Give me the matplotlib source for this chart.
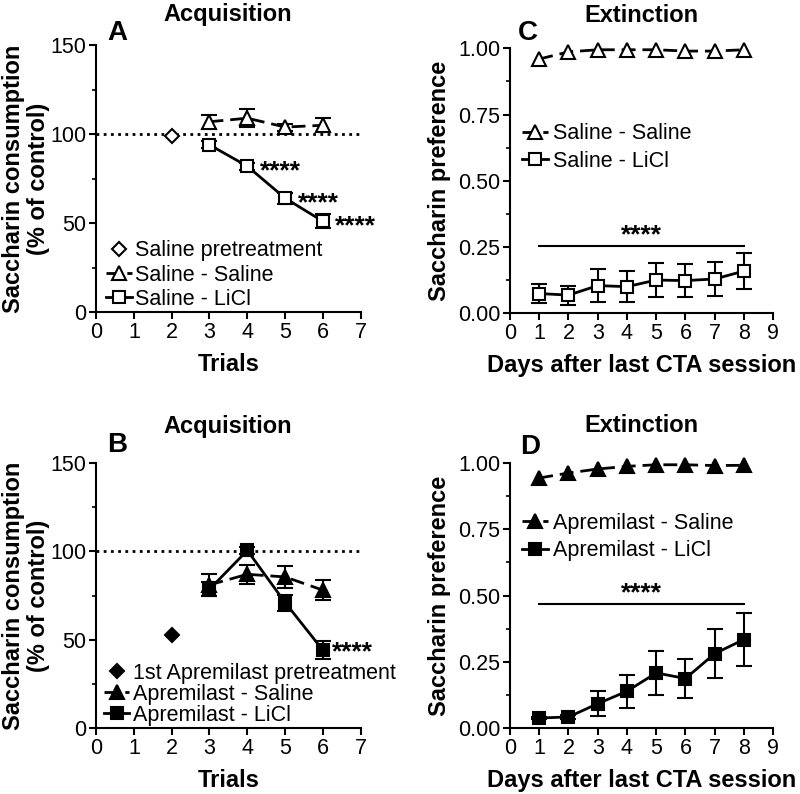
import matplotlib
matplotlib.use("Agg")
import matplotlib.pyplot as plt
from matplotlib.ticker import MultipleLocator, FormatStrFormatter

plt.rcParams['font.family'] = ['Liberation Sans', 'DejaVu Sans']
plt.rcParams['axes.linewidth'] = 1.5

# Panel A - acquisition, saline pretreatment
trials = [3, 4, 5, 6]
a_pre_x, a_pre_y = [2], [99]
a_sal_sal = [107, 109, 104, 105]
a_sal_sal_err = [4, 5, 2, 4]
a_sal_licl = [94, 82, 64, 51]
a_sal_licl_err = [2, 2, 3, 4]

# Panel B - acquisition, apremilast pretreatment
b_pre_x, b_pre_y = [2], [52.5]
b_apr_sal = [81, 87, 85.5, 78]
b_apr_sal_err = [6, 5.5, 6, 5.5]
b_apr_licl = [78.5, 100.5, 71, 44]
b_apr_licl_err = [4, 2, 4.5, 5]

# Panel C / D - extinction
days = [1, 2, 3, 4, 5, 6, 7, 8]
c_sal_sal = [0.96, 0.987, 0.995, 0.995, 0.995, 0.99, 0.99, 0.995]
c_sal_licl = [0.073, 0.067, 0.103, 0.099, 0.124, 0.122, 0.128, 0.158]
c_sal_licl_err = [0.036, 0.036, 0.061, 0.058, 0.064, 0.063, 0.065, 0.068]
d_apr_sal = [0.943, 0.962, 0.977, 0.987, 0.993, 0.993, 0.99, 0.991]
d_apr_licl = [0.038, 0.042, 0.092, 0.139, 0.208, 0.187, 0.281, 0.334]
d_apr_licl_err = [0.005, 0.008, 0.047, 0.063, 0.083, 0.075, 0.093, 0.099]

STAR_FS = 19
TICK_FS = 15.5
LAB_FS = 17
LEG_FS = 15.5


def style_axis(ax, xmax, ymax, ymajor, yminor, fmt=None):
    ax.spines['top'].set_visible(False)
    ax.spines['right'].set_visible(False)
    ax.set_xlim(0, xmax)
    ax.set_ylim(0, ymax)
    ax.xaxis.set_major_locator(MultipleLocator(1))
    ax.yaxis.set_major_locator(MultipleLocator(ymajor))
    ax.yaxis.set_minor_locator(MultipleLocator(yminor))
    ax.tick_params(axis='both', which='major', labelsize=TICK_FS, width=1.5,
                   length=5, pad=2)
    ax.tick_params(axis='y', which='minor', width=1.2, length=3)
    if fmt:
        ax.yaxis.set_major_formatter(fmt)


def series(ax, x, y, err, marker, filled, dashed, label, ms):
    face = 'black' if filled else 'white'
    ls = (0, (5, 2.5)) if dashed else '-'
    if err is not None:
        ax.errorbar(x, y, yerr=err, fmt='none', ecolor='black', elinewidth=1.5,
                    capsize=6, capthick=1.5, zorder=2)
    ax.plot(x, y, linestyle=ls, color='black', lw=2, marker=marker, ms=ms,
            mfc=face, mec='black', mew=1.5, label=label, zorder=3, clip_on=False)


def stars(ax, x, y, ha='left'):
    ax.text(x, y, '****', fontsize=STAR_FS, fontweight='bold', va='center', ha=ha)


def labels(ax, xlab, ylab, ylab_x):
    ax.set_xlabel(xlab, fontsize=LAB_FS, fontweight='bold')
    ax.set_ylabel(ylab, fontsize=LAB_FS, fontweight='bold', linespacing=1.1)
    ax.xaxis.set_label_coords(0.5, -0.155)
    ax.yaxis.set_label_coords(ylab_x, 0.5)


fig = plt.figure(figsize=(8, 7.94), dpi=100)
axA = fig.add_axes([0.12, 0.607, 0.331, 0.336])
axC = fig.add_axes([0.6375, 0.606, 0.329, 0.333])
axB = fig.add_axes([0.12, 0.083, 0.331, 0.334])
axD = fig.add_axes([0.6375, 0.083, 0.329, 0.334])
fmt2 = FormatStrFormatter('%.2f')

# ---- A ----
ax = axA
ax.axhline(100, color='black', ls=(0, (1, 1.6)), lw=2, zorder=1)
ax.plot(a_pre_x, a_pre_y, linestyle='none', marker='D', ms=7, mfc='white',
        mec='black', mew=1.5, label='Saline pretreatment', zorder=3)
series(ax, trials, a_sal_sal, a_sal_sal_err, '^', False, True, 'Saline - Saline', 10)
series(ax, trials, a_sal_licl, a_sal_licl_err, 's', False, False, 'Saline - LiCl', 9)
for x, y in zip(trials[1:], a_sal_licl[1:]):
    stars(ax, x + 0.33, y - 3)
style_axis(ax, 7, 150, 50, 25)
labels(ax, 'Trials', 'Saccharin consumption\n(% of control)', -0.175)
ax.legend(loc='lower left', bbox_to_anchor=(-0.01, -0.04), frameon=False,
          fontsize=LEG_FS, handlelength=1.2, handletextpad=0.15, labelspacing=0.15,
          borderaxespad=0.2)

# ---- B ----
ax = axB
ax.axhline(100, color='black', ls=(0, (1, 1.6)), lw=2, zorder=1)
ax.plot(b_pre_x, b_pre_y, linestyle='none', marker='D', ms=7, mfc='black',
        mec='black', mew=1.5, label='1st Apremilast pretreatment', zorder=3)
series(ax, trials, b_apr_sal, b_apr_sal_err, '^', True, True, 'Apremilast - Saline', 10)
series(ax, trials, b_apr_licl, b_apr_licl_err, 's', True, False, 'Apremilast - LiCl', 9)
stars(ax, trials[-1] + 0.25, b_apr_licl[-1] - 1)
style_axis(ax, 7, 150, 50, 25)
labels(ax, 'Trials', 'Saccharin consumption\n(% of control)', -0.175)
ax.legend(loc='lower left', bbox_to_anchor=(-0.02, -0.04), frameon=False,
          fontsize=LEG_FS, handlelength=1.2, handletextpad=0.15, labelspacing=0.0,
          borderaxespad=0.2)

# ---- C ----
ax = axC
series(ax, days, c_sal_sal, None, '^', False, True, 'Saline - Saline', 10)
series(ax, days, c_sal_licl, c_sal_licl_err, 's', False, False, 'Saline - LiCl', 9)
ax.plot([days[0], days[-1]], [0.253, 0.253], color='black', lw=1.5)
stars(ax, (days[0] + days[-1]) / 2, 0.295, ha='center')
style_axis(ax, 9, 1.0, 0.25, 0.125, fmt2)
labels(ax, 'Days after last CTA session', 'Saccharin preference', -0.225)
ax.legend(loc='upper left', bbox_to_anchor=(-0.027, 0.79), frameon=False,
          fontsize=LEG_FS, handlelength=1.2, handletextpad=0.25, labelspacing=0.3)

# ---- D ----
ax = axD
series(ax, days, d_apr_sal, None, '^', True, True, 'Apremilast - Saline', 10)
series(ax, days, d_apr_licl, d_apr_licl_err, 's', True, False, 'Apremilast - LiCl', 9)
ax.plot([days[0], days[-1]], [0.468, 0.468], color='black', lw=1.5)
stars(ax, (days[0] + days[-1]) / 2, 0.51, ha='center')
style_axis(ax, 9, 1.0, 0.25, 0.125, fmt2)
labels(ax, 'Days after last CTA session', 'Saccharin preference', -0.225)
ax.legend(loc='upper left', bbox_to_anchor=(-0.027, 0.885), frameon=False,
          fontsize=LEG_FS, handlelength=1.2, handletextpad=0.25, labelspacing=0.3)

# titles and panel letters
for x, y, t in [(228, 15, 'Acquisition'), (641, 15, 'Extinction'),
                (228, 427, 'Acquisition'), (641, 425, 'Extinction')]:
    fig.text(x / 800, 1 - y / 794, t, fontsize=17, fontweight='bold',
             ha='center', va='center')
for x, y, t in [(117, 33, 'A'), (528, 33, 'C'), (117, 445, 'B'), (530, 447, 'D')]:
    fig.text(x / 800, 1 - y / 794, t, fontsize=20, fontweight='bold',
             ha='center', va='center')

fig.savefig('out.png', dpi=100)
